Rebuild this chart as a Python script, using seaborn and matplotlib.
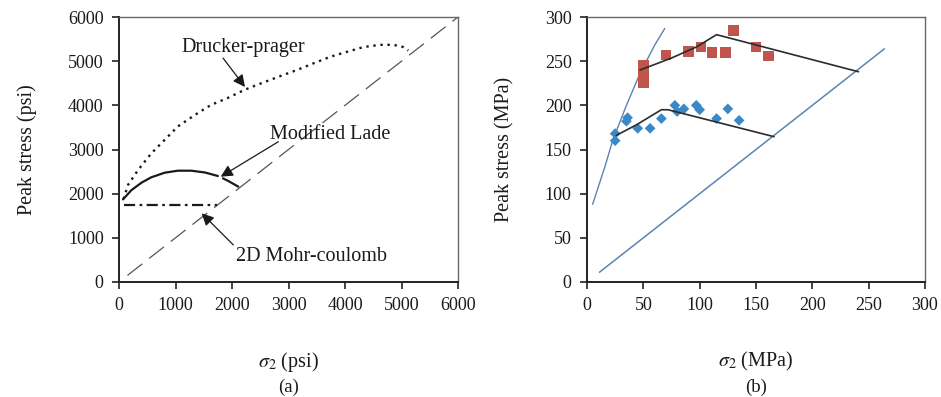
import numpy as np
import pandas as pd
import matplotlib
matplotlib.use("Agg")
import matplotlib.pyplot as plt
import seaborn as sns

# ---- (a) failure criteria envelopes, psi ----
dp_sigma2 = [80, 160, 340, 570, 810, 1040, 1340, 1630, 1930, 2220, 2520,
             2850, 3150, 3440, 3740, 4030, 4330, 4620, 4860, 5030, 5120]
dp_peak = [1880, 2200, 2540, 2910, 3220, 3520, 3780, 4010, 4170, 4350, 4500,
           4660, 4800, 4950, 5100, 5210, 5320, 5370, 5370, 5320, 5240]

lade_sigma2 = [70, 220, 400, 570, 810, 1040, 1280, 1520, 1750]
lade_peak = [1870, 2080, 2250, 2370, 2475, 2520, 2520, 2480, 2400]
lade_tail_sigma2 = [1840, 1930, 2110]
lade_tail_peak = [2347, 2290, 2160]

mc_sigma2 = [80, 1740]
mc_peak = [1740, 1740]

diag_a = [150, 6000]

# ---- (b) true triaxial test data, MPa ----
red_sigma2 = [50, 50, 50, 50, 70, 90, 101, 111, 123, 130, 150, 161]
red_peak = [245, 238, 231, 226, 257, 261, 266, 260, 260, 285, 266, 256]

blue_sigma2 = [25, 25, 36, 35, 45, 56, 66, 78, 80, 86, 97, 100, 115, 125, 135]
blue_peak = [168, 160, 186, 182, 174, 174, 185, 200, 193, 196, 200, 195, 185, 196, 183]

fit_red_sigma2 = [47, 74, 97, 115, 241]
fit_red_peak = [240, 253, 266, 280, 238]

fit_blue_sigma2 = [26, 44, 66, 72, 166]
fit_blue_peak = [166, 178, 195, 195, 164.5]

limit_sigma2 = [5, 16, 23, 35, 47, 60, 69]
limit_peak = [88, 131, 161, 200, 236, 268, 287]

diag_b = [11, 264]

sns.set_theme(style="ticks")
plt.rcParams["font.family"] = ["Liberation Serif", "DejaVu Serif"]
plt.rcParams["mathtext.fontset"] = "stix"

fig = plt.figure(figsize=(9.41, 3.97), dpi=100)
W, H = 941, 397
ax1 = fig.add_axes([119 / W, 1 - 282 / H, (458 - 119) / W, (282 - 17) / H])
ax2 = fig.add_axes([587 / W, 1 - 282 / H, (925 - 587) / W, (282 - 17) / H])

ink = "#1a1a1a"

# (a) curves
sns.lineplot(x=diag_a, y=diag_a, ax=ax1, color="#555555", lw=0.9,
             linestyle=(0, (15, 7)), estimator=None, sort=False)
sns.lineplot(x=dp_sigma2, y=dp_peak, ax=ax1, color=ink, lw=1.7,
             linestyle=(0, (1, 2.0)), estimator=None, sort=False)
sns.lineplot(x=lade_sigma2, y=lade_peak, ax=ax1, color=ink, lw=1.6,
             estimator=None, sort=False)
sns.lineplot(x=lade_tail_sigma2, y=lade_tail_peak, ax=ax1, color=ink, lw=1.6,
             estimator=None, sort=False)
sns.lineplot(x=mc_sigma2, y=mc_peak, ax=ax1, color=ink, lw=1.6,
             linestyle=(0, (5, 2, 1.2, 2)), estimator=None, sort=False)

arrow = dict(arrowstyle="-|>", color=ink, lw=0.9, mutation_scale=18,
             shrinkA=0, shrinkB=0)
ax1.text(2195, 5320, "Drucker-prager", ha="center", va="center",
         fontsize=14.5, color=ink)
ax1.annotate("", xy=(2230, 4415), xytext=(1841, 5071), arrowprops=arrow)
ax1.text(3735, 3350, "Modified Lade", ha="center", va="center",
         fontsize=14.5, color=ink)
ax1.annotate("", xy=(1800, 2384), xytext=(2820, 3176), arrowprops=arrow)
ax1.text(3410, 573, "2D Mohr-coulomb", ha="center", va="center",
         fontsize=14.5, color=ink)
ax1.annotate("", xy=(1464, 1555), xytext=(2023, 840), arrowprops=arrow)

ax1.set_xlim(0, 6000)
ax1.set_ylim(0, 6000)
ax1.set_xticks(range(0, 6001, 1000))
ax1.set_yticks(range(0, 6001, 1000))
ax1.set_xlabel(r"$\sigma_2$ (psi)", fontsize=14.5, labelpad=26)
ax1.set_ylabel("Peak stress (psi)", fontsize=14.5, labelpad=22)

# (b) data and envelopes
blue_line = "#5a84b2"
sns.lineplot(x=diag_b, y=diag_b, ax=ax2, color=blue_line, lw=1.1,
             estimator=None, sort=False)
sns.lineplot(x=limit_sigma2, y=limit_peak, ax=ax2, color=blue_line, lw=1.0,
             estimator=None, sort=False)
sns.scatterplot(x=red_sigma2, y=red_peak, ax=ax2, marker="s", s=58,
                color="#c0554d", edgecolor="none", zorder=3)
sns.scatterplot(x=blue_sigma2, y=blue_peak, ax=ax2, marker="D", s=30,
                color="#3a89c6", edgecolor="none", zorder=3)
sns.lineplot(x=fit_red_sigma2, y=fit_red_peak, ax=ax2, color="#2b2b2b", lw=1.2,
             estimator=None, sort=False, zorder=4)
sns.lineplot(x=fit_blue_sigma2, y=fit_blue_peak, ax=ax2, color="#2b2b2b", lw=1.2,
             estimator=None, sort=False, zorder=4)

ax2.set_xlim(0, 300)
ax2.set_ylim(0, 300)
ax2.set_xticks(range(0, 301, 50))
ax2.set_yticks(range(0, 301, 50))
ax2.set_xlabel(r"$\sigma_2$ (MPa)", fontsize=14.5, labelpad=26)
ax2.set_ylabel("Peak stress (MPa)", fontsize=14.5, labelpad=22)

for ax, tag in ((ax1, "(a)"), (ax2, "(b)")):
    for side in ("left", "bottom"):
        ax.spines[side].set_color("#222222")
        ax.spines[side].set_linewidth(1.4)
    for side in ("top", "right"):
        ax.spines[side].set_visible(True)
        ax.spines[side].set_color("#666666")
        ax.spines[side].set_linewidth(1.0)
    ax.tick_params(axis="both", direction="out", length=5, width=1.2,
                   color="#222222", labelsize=13, labelcolor=ink, pad=6)
    ax.xaxis.label.set_color(ink)
    ax.yaxis.label.set_color(ink)
    bb = ax.get_position()
    fig.text((bb.x0 + bb.x1) / 2, 1 - 387 / H, tag, ha="center", va="center",
             fontsize=13.5, color=ink)

fig.savefig("out.png", dpi=100, facecolor="white")
